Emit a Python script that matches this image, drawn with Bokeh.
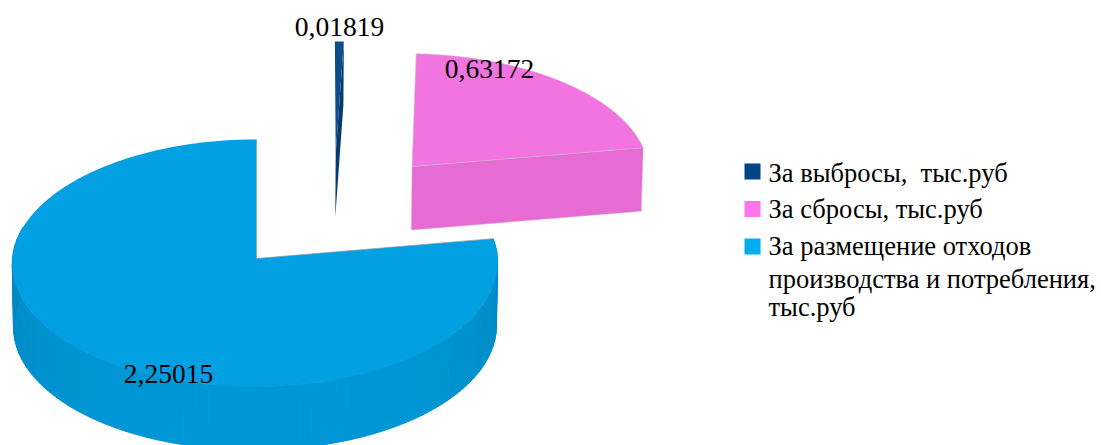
import numpy as np
from bokeh.plotting import figure
from bokeh.embed import file_html
from bokeh.resources import INLINE
from bokeh.core.properties import value

categories = ["За выбросы,\u00a0\u00a0тыс.руб", "За сбросы, тыс.руб", "За размещение отходов\nпроизводства и потребления,\nтыс.руб"]
values = [0.01819, 0.63172, 2.25015]
labels = ["0,01819", "0,63172", "2,25015"]
top_colors = ["#0A4C8C", "#F274E0", "#00A0E3"]
face_colors = ["#053A70", "#E66BD3", "#0090CE"]
legend_colors = ["#004586", "#FF75EB", "#00AEF0"]
FONT = "Liberation Serif"
TEXT_SHIFT = 9

W, H = 1101, 445
CX, CY, RX, RY, K, DEPTH = 254.5, 258.0, 242.5, 123.4, 0.0365, 63.5
offsets = [(0.352, 0.879), (0.668, 0.7665), (0.0, 0.0)]
apex_dx = [-2.0, -0.5, 1.5]
rim_skew = [0.0, 0.0, 1.5]


def project(X, Z, low=False):
    w = 1 + K * Z
    x = CX + RX * X / w
    y = CY - RY * Z / w
    if low:
        x = CX + (x - CX) * 0.995
        y = y + DEPTH
    return x, y


p = figure(width=W, height=H, x_range=(0, W), y_range=(H, 0), toolbar_location=None,
           output_backend="svg", min_border=0, outline_line_color=None)
p.axis.visible = False
p.grid.visible = False
p.styles = {"position": "absolute", "left": "0", "top": "0"}

total = sum(values)
edges = np.concatenate([[0], np.cumsum(values) / total * 2 * np.pi])


def rim(i, a0, a1, n, low=False):
    th = np.linspace(a0, a1, n)
    ox, oz = offsets[i]
    x, y = project(ox + np.sin(th), oz + np.cos(th), low)
    return x + rim_skew[i] * np.cos(th), y


def draw_slice(i):
    a0, a1 = edges[i], edges[i + 1]
    ox, oz = offsets[i]
    ax, ay = project(ox, oz)
    bx, by = project(ox, oz, True)
    ax += apex_dx[i]
    bx += apex_dx[i]
    # outer wall, in strips
    wall0, wall1 = a0, min(a1, np.deg2rad(285))
    if wall1 > np.pi / 2:
        wall0 = max(wall0, np.deg2rad(60))
        steps = np.linspace(wall0, wall1, 70)
        xs, ys, cs = [], [], []
        for s0, s1 in zip(steps[:-1], steps[1:]):
            tx, ty = rim(i, s0, s1, 4)
            lx, ly = rim(i, s0, s1, 4, True)
            xs.append(list(tx) + list(lx[::-1]))
            ys.append(list(ty) + list(ly[::-1]))
            m = (s0 + s1) / 2
            light = 0.5 + 0.5 * np.cos(m - np.pi)
            g = int(126 + 26 * light)
            b = int(180 + 36 * light)
            cs.append(f"#00{g:02X}{b:02X}")
        p.patches(xs, ys, fill_color=cs, line_color=cs, line_width=1)
    # cut face towards the viewer
    ex, ey = rim(i, a1, a1, 1)
    fx, fy = rim(i, a1, a1, 1, True)
    if a1 < np.pi / 2:
        p.patch([ax, ex[0], fx[0], bx], [ay, ey[0], fy[0], by],
                fill_color=face_colors[i], line_color="#D9A8D2" if i == 1 else None, line_width=0.5)
    # upper surface
    tx, ty = rim(i, a0, a1, 240)
    p.patch([ax] + list(tx), [ay] + list(ty), fill_color=top_colors[i],
            line_color="#BDBDBD" if i == 1 else None, line_width=0.5)
    if i == 2:
        p.line([tx[0], ax, tx[-1]], [ty[0], ay, ty[-1]], line_color="#8A9AA3", line_width=0.7)


for i in [2, 1, 0]:
    draw_slice(i)

text_kw = dict(text_font=value(FONT), text_color="#000000", text_baseline="alphabetic")
p.text(x=[339, 489, 168], y=[35 - TEXT_SHIFT, 77 - TEXT_SHIFT, 382 - TEXT_SHIFT], text=labels, text_align="center",
       text_font_size="27.5px", **text_kw)

# legend
lx, ly, lt = [], [], []
ys_sq = [171, 208.5, 246]
ys_text = [[181], [217], [254, 287, 315]]
p.rect(x=[752] * 3, y=ys_sq, width=16, height=16, fill_color=legend_colors, line_color=None)
for cat, yy in zip(categories, ys_text):
    for line, y in zip(cat.split("\n"), yy):
        lx.append(768)
        ly.append(y - TEXT_SHIFT)
        lt.append(line)
p.text(x=lx, y=ly, text=lt, text_align="left", text_font_size="26.5px", **text_kw)

open("out.html", "w").write(file_html(p, INLINE))
